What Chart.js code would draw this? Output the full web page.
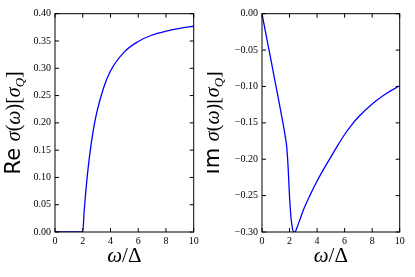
<!DOCTYPE html>
<html>
<head>
<meta charset="utf-8">
<script src="https://cdn.jsdelivr.net/npm/chart.js@4.4.1/dist/chart.umd.min.js"></script>
<style>
  html, body { margin: 0; padding: 0; background: #fff; }
  #wrap { position: relative; width: 415px; height: 277px; }
  canvas { position: absolute; top: 0; }
</style>
</head>
<body>
<div id="wrap">
  <canvas id="re" width="207" height="277" style="left:0"></canvas>
  <canvas id="im" width="208" height="277" style="left:207px"></canvas>
</div>
<script>
// values
const reOmega = [0, 2, 2.1, 2.2, 2.3, 2.5, 2.75, 3, 3.5, 4, 5, 6, 7, 8, 9, 10];
const reSigma = [0, 0, 0.037, 0.068, 0.096, 0.141, 0.185, 0.218, 0.264, 0.295, 0.330, 0.349, 0.361, 0.368, 0.373, 0.377];

const imOmega = [0, 0.5, 1, 1.5, 1.7, 1.8, 1.9, 2.0, 2.1, 2.2, 2.3, 2.4, 2.5, 2.75, 3, 3.5, 4, 4.5, 5, 5.5, 6, 6.5, 7, 8, 9, 10];
const imSigma = [0, -0.049, -0.098, -0.148, -0.170, -0.184, -0.212, -0.252, -0.279, -0.294, -0.300, -0.300, -0.296, -0.283, -0.270, -0.249, -0.230, -0.213, -0.197, -0.181, -0.166, -0.153, -0.142, -0.124, -0.110, -0.099];

const xTicks = [0, 2, 4, 6, 8, 10];
const reTicks = [0, 0.05, 0.10, 0.15, 0.20, 0.25, 0.30, 0.35, 0.40];
const imTicks = [-0.30, -0.25, -0.20, -0.15, -0.10, -0.05, 0];

const serif = "'Liberation Serif', 'DejaVu Serif', serif";
const sans = "'DejaVu Sans', 'Liberation Sans', sans-serif";

function fmt(v) {
    const s = Math.abs(v).toFixed(2);
    return v < -1e-9 ? '\u2212' + s : s;
}

// draws a run of text pieces with their own fonts
function drawPieces(ctx, pieces, x, y, rotate) {
    ctx.save();
    let total = 0;
    pieces.forEach(p => { ctx.font = p.font; total += ctx.measureText(p.t).width; });
    ctx.translate(x, y);
    if (rotate) ctx.rotate(-Math.PI / 2);
    ctx.fillStyle = '#000';
    ctx.textBaseline = 'alphabetic';
    let cx = -total / 2;
    pieces.forEach(p => {
        ctx.font = p.font;
        ctx.fillText(p.t, cx, p.dy || 0);
        cx += ctx.measureText(p.t).width;
    });
    ctx.restore();
}

const xTitle = [
    { t: '\u03C9', font: 'italic 21px ' + serif },
    { t: '/', font: '21px ' + serif },
    { t: '\u0394', font: '21px ' + serif }
];

function yTitle(prefix) {
    return [
        { t: prefix + ' ', font: '21px ' + sans },
        { t: '\u03C3', font: 'italic 20px ' + serif },
        { t: '(', font: '20px ' + serif },
        { t: '\u03C9', font: 'italic 20px ' + serif },
        { t: ')[', font: '20px ' + serif },
        { t: '\u03C3', font: 'italic 20px ' + serif },
        { t: 'Q', font: 'italic 13px ' + serif, dy: 4 },
        { t: ']', font: '20px ' + serif }
    ];
}

const framePlugin = {
    id: 'frame',
    afterDraw(chart, args, opts) {
        const { ctx, chartArea: a, scales } = chart;
        ctx.save();
        ctx.strokeStyle = '#000';
        ctx.lineWidth = 1;
        ctx.strokeRect(a.left, a.top, a.right - a.left, a.bottom - a.top);
        ctx.beginPath();
        xTicks.forEach(v => {
            const px = scales.x.getPixelForValue(v);
            ctx.moveTo(px, a.bottom); ctx.lineTo(px, a.bottom - 4);
            ctx.moveTo(px, a.top); ctx.lineTo(px, a.top + 4);
        });
        opts.yTicks.forEach(v => {
            const py = scales.y.getPixelForValue(v);
            ctx.moveTo(a.left, py); ctx.lineTo(a.left + 4, py);
            ctx.moveTo(a.right, py); ctx.lineTo(a.right - 4, py);
        });
        ctx.stroke();
        ctx.restore();
        drawPieces(ctx, xTitle, (a.left + a.right) / 2, 262, false);
        drawPieces(ctx, yTitle(opts.prefix), opts.titleX, (a.top + a.bottom) / 2, true);
    }
};

function makeChart(id, xs, ys, yMin, yMax, yTicks, prefix, titleX, padRight) {
    const ctx = document.getElementById(id).getContext('2d');
    return new Chart(ctx, {
        type: 'line',
        data: {
            datasets: [{
                data: xs.map((x, i) => ({ x, y: ys[i] })),
                borderColor: '#0000ff',
                borderWidth: 1.3,
                pointRadius: 0,
                cubicInterpolationMode: 'monotone',
                fill: false
            }]
        },
        options: {
            responsive: false,
            animation: false,
            devicePixelRatio: 1,
            layout: { padding: { left: 0, right: padRight, top: 13.7, bottom: 0 } },
            plugins: {
                legend: { display: false },
                tooltip: { enabled: false },
                frame: { yTicks, prefix, titleX }
            },
            scales: {
                x: {
                    type: 'linear', min: 0, max: 10,
                    afterBuildTicks(s) { s.ticks = xTicks.map(v => ({ value: v })); },
                    afterFit(s) { s.height = 45; },
                    ticks: { color: '#000', font: { family: serif, size: 10 }, padding: 3, maxRotation: 0 },
                    grid: { display: false, drawTicks: false },
                    border: { display: false }
                },
                y: {
                    type: 'linear', min: yMin, max: yMax,
                    afterBuildTicks(s) { s.ticks = yTicks.map(v => ({ value: v })); },
                    afterFit(s) { s.width = 55; },
                    ticks: { color: '#000', font: { family: serif, size: 10 }, padding: 4, callback: v => fmt(v) },
                    grid: { display: false, drawTicks: false },
                    border: { display: false }
                }
            }
        },
        plugins: [framePlugin]
    });
}

makeChart('re', reOmega, reSigma, 0, 0.4, reTicks, 'Re', 20, 13.3);
makeChart('im', imOmega, imSigma, -0.3, 0, imTicks, 'Im', 12, 15.3);
</script>
</body>
</html>
